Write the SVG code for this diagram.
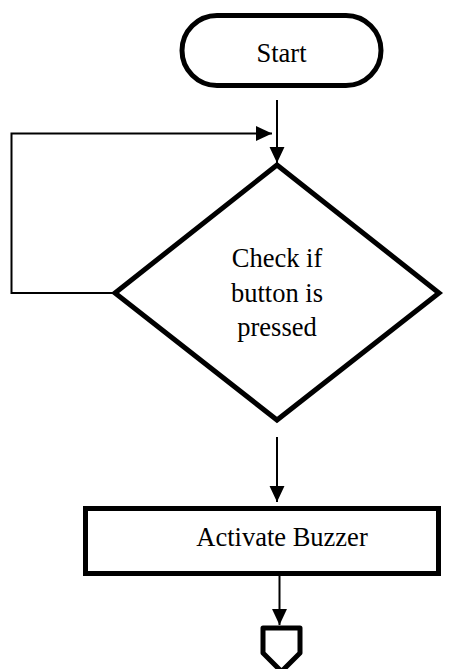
<svg xmlns="http://www.w3.org/2000/svg" width="476" height="669" viewBox="0 0 476 669">
<style>
.node{fill:#fff;stroke:#000;stroke-width:5}
.lbl{font-family:"Liberation Serif","Times New Roman",serif;font-size:26.5px;fill:#000;text-anchor:middle}
.conn{fill:none;stroke:#000;stroke-width:2}
</style>
<defs>
<marker id="ah" markerUnits="userSpaceOnUse" markerWidth="16" markerHeight="16" viewBox="0 0 15 14" refX="15" refY="7" orient="auto">
<path d="M0,0 L15,7 L0,14 Z" fill="#000"/>
</marker>
</defs>
<rect width="476" height="669" fill="#fff"/>
<g id="connectors">
<line class="conn" x1="277" y1="100" x2="277" y2="163" marker-end="url(#ah)"/>
<polyline class="conn" points="114,293 11.5,293 11.5,133.5 272,133.5" marker-end="url(#ah)"/>
<line class="conn" x1="277" y1="437" x2="277" y2="502" marker-end="url(#ah)"/>
<line class="conn" x1="279.5" y1="576" x2="279.5" y2="625" marker-end="url(#ah)"/>
</g>
<g id="start">
<rect class="node" x="182" y="15.5" width="199" height="70" rx="35" ry="35"/>
<text class="lbl" x="281.5" y="62">Start</text>
</g>
<g id="check">
<polygon class="node" points="277,165 439,293 277,420 115,293"/>
<text class="lbl" x="277" y="267">Check if</text>
<text class="lbl" x="277" y="302">button is</text>
<text class="lbl" x="277" y="336">pressed</text>
</g>
<g id="activate">
<rect class="node" x="85.5" y="508.5" width="353" height="65"/>
<text class="lbl" x="282" y="546">Activate Buzzer</text>
</g>
<g id="offpage">
<polygon class="node" points="263,628 300,628 300,653 281.5,671.5 263,653" stroke-linejoin="round"/>
</g>
</svg>
